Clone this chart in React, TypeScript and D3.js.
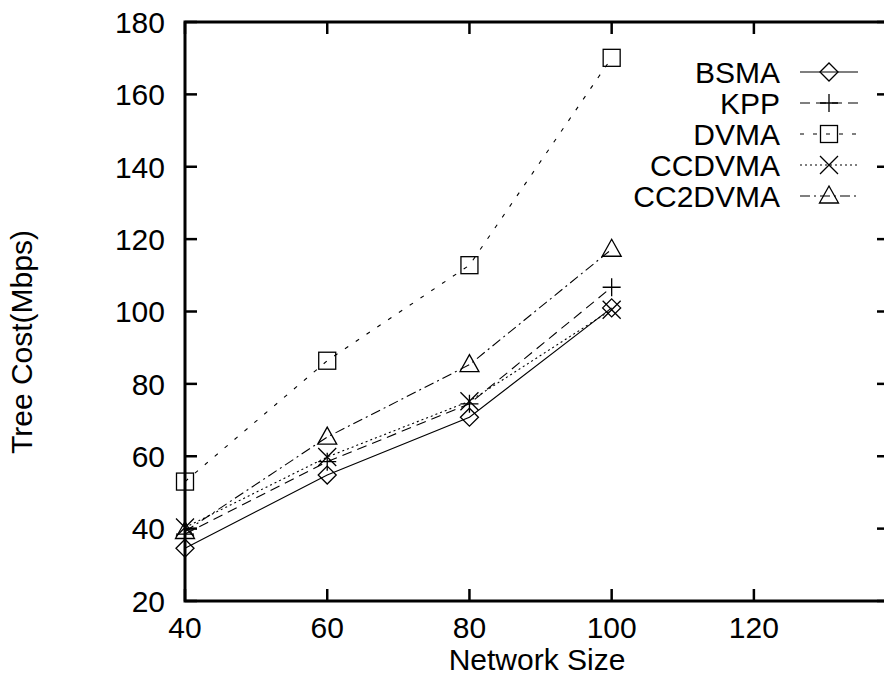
import React from "react";
import * as d3 from "d3";

const networkSizes = [40, 60, 80, 100];
const bsma = [34.6, 54.8, 70.8, 101];
const kpp = [38.5, 58.5, 74.5, 106.7];
const dvma = [53, 86.4, 112.8, 170.1];
const ccdvma = [40.3, 59.8, 75.2, 100.5];
const cc2dvma = [39.2, 65.3, 85.3, 117.2];
const seriesNames = ["BSMA", "KPP", "DVMA", "CCDVMA", "CC2DVMA"];
const xTicks = [40, 60, 80, 100, 120];
const yTicks = [20, 40, 60, 80, 100, 120, 140, 160, 180];

const W = 884;
const H = 679;
const L = 185, R = 889, T = 22, B = 601;
const FONT = "'Liberation Sans', Arial, Helvetica, sans-serif";

const styles = [
  { dash: "none", marker: "diamond" },
  { dash: "10,6", marker: "plus" },
  { dash: "4,9", marker: "square" },
  { dash: "2,3", marker: "cross" },
  { dash: "10,4,2,4", marker: "triangle" },
];

function Marker({ type, x, y }: { type: string; x: number; y: number }) {
  const s = 9;
  const common = { fill: "none", stroke: "#000", strokeWidth: 1.3 };
  switch (type) {
    case "diamond":
      return <path d={`M${x - s},${y}L${x},${y - s}L${x + s},${y}L${x},${y + s}Z`} {...common} />;
    case "plus":
      return <path d={`M${x - s},${y}H${x + s}M${x},${y - s}V${y + s}`} {...common} />;
    case "square":
      return <rect x={x - 8.5} y={y - 8.5} width={17} height={17} {...common} />;
    case "cross":
      return <path d={`M${x - s},${y - s}L${x + s},${y + s}M${x - s},${y + s}L${x + s},${y - s}`} {...common} />;
    case "triangle":
      return <path d={`M${x - 9.5},${y + 7}L${x},${y - 10}L${x + 9.5},${y + 7}Z`} {...common} />;
    default:
      return null;
  }
}

export default function App() {
  const x = d3.scaleLinear().domain([40, 139]).range([L, R]);
  const y = d3.scaleLinear().domain([20, 180]).range([B, T]);
  const data = [bsma, kpp, dvma, ccdvma, cc2dvma];
  const line = d3
    .line<[number, number]>()
    .x((d) => x(d[0]))
    .y((d) => y(d[1]));

  return (
    <svg
      width={W}
      height={H}
      style={{ position: "absolute", left: 0, top: 0, background: "#fff" }}
      fontFamily={FONT}
    >
      <rect x={0} y={0} width={W} height={H} fill="#fff" />
      {data.map((vals, i) => {
        const pts = networkSizes.map((n, j) => [n, vals[j]] as [number, number]);
        return (
          <g key={seriesNames[i]}>
            <path
              d={line(pts) || ""}
              fill="none"
              stroke="#000"
              strokeWidth={1.1}
              strokeDasharray={styles[i].dash}
            />
            {pts.map((p, j) => (
              <Marker key={j} type={styles[i].marker} x={x(p[0])} y={y(p[1])} />
            ))}
          </g>
        );
      })}
      <rect x={L} y={T} width={R - L} height={B - T} fill="none" stroke="#000" strokeWidth={3} />
      {yTicks.map((t) => (
        <g key={"y" + t}>
          <line x1={L} x2={L + 12} y1={y(t)} y2={y(t)} stroke="#000" strokeWidth={2.5} />
          <line x1={R} x2={R - 12} y1={y(t)} y2={y(t)} stroke="#000" strokeWidth={2.5} />
          <text x={L - 20} y={y(t)} dy="0.36em" textAnchor="end" fontSize={30}>
            {t}
          </text>
        </g>
      ))}
      {xTicks.map((t) => (
        <g key={"x" + t}>
          <line x1={x(t)} x2={x(t)} y1={B} y2={B - 12} stroke="#000" strokeWidth={2.5} />
          <line x1={x(t)} x2={x(t)} y1={T} y2={T + 12} stroke="#000" strokeWidth={2.5} />
          <text x={x(t)} y={638} textAnchor="middle" fontSize={30}>
            {t}
          </text>
        </g>
      ))}
      <text x={(L + R) / 2} y={670} textAnchor="middle" fontSize={30}>
        Network Size
      </text>
      <text transform={`translate(32,342) rotate(-90)`} textAnchor="middle" fontSize={30}>
        Tree Cost(Mbps)
      </text>
      {seriesNames.map((name, i) => {
        const ly = 72 + i * 31;
        return (
          <g key={"lg" + name}>
            <text x={780} y={ly} dy="0.36em" textAnchor="end" fontSize={30}>
              {name}
            </text>
            <line
              x1={800}
              x2={858}
              y1={ly}
              y2={ly}
              stroke="#000"
              strokeWidth={1.1}
              strokeDasharray={styles[i].dash}
            />
            <Marker type={styles[i].marker} x={829} y={ly} />
          </g>
        );
      })}
    </svg>
  );
}
